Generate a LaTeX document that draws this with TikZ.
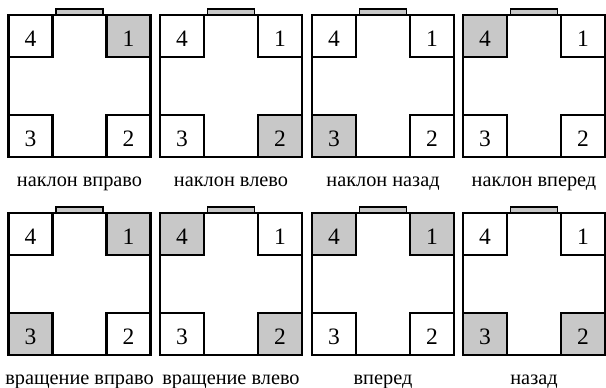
\documentclass[tikz,border=0pt]{standalone}
\usepackage{fontspec}
\setmainfont{Liberation Serif}
\usetikzlibrary{calc}
\definecolor{pad}{HTML}{C8C8C8}
\tikzset{
 outerbox/.style={draw,line width=2.5pt,minimum width=142pt,minimum height=142pt,inner sep=0pt,outer sep=0pt,anchor=north west},
 cornerbox/.style={draw,line width=2.2pt,minimum width=44pt,minimum height=42pt,inner sep=0pt,outer sep=0pt,fill=white,text height=20.5pt,text depth=0pt,font=\fontsize{23.5}{23.5}\selectfont},
 litbox/.style={cornerbox,fill=pad},
 topbar/.style={draw,line width=1.6pt,fill=pad,minimum width=47pt,minimum height=6pt,inner sep=0pt,outer sep=0pt,anchor=south},
 caption/.style={font=\fontsize{20.3}{20.3}\selectfont,anchor=base,inner sep=0pt}
}
\newcommand\padpanel[8]{%
 \node[outerbox] (#1) at (#2,#3) {};
 \node[topbar] (#1b) at (#1.north) {};
 \node[#4,anchor=north east] (#1n1) at (#1.north east) {1};
 \node[#5,anchor=south east] (#1n2) at (#1.south east) {2};
 \node[#6,anchor=south west] (#1n3) at (#1.south west) {3};
 \node[#7,anchor=north west] (#1n4) at (#1.north west) {4};
 \node[caption] (#1c) at ($(#1.south)+(0,29)$) {#8};
}
\begin{document}
\begin{tikzpicture}[x=1pt,y=-1pt]
\useasboundingbox (0,0) rectangle (606,388);
\padpanel{pa}{8.5}{15}{litbox}{cornerbox}{cornerbox}{cornerbox}{наклон вправо}
\padpanel{pb}{160}{15}{cornerbox}{litbox}{cornerbox}{cornerbox}{наклон влево}
\padpanel{pc}{312}{15}{cornerbox}{cornerbox}{litbox}{cornerbox}{наклон назад}
\padpanel{pd}{463}{15}{cornerbox}{cornerbox}{cornerbox}{litbox}{наклон вперед}
\padpanel{pe}{8.5}{213}{litbox}{cornerbox}{litbox}{cornerbox}{вращение вправо}
\padpanel{pf}{160}{213}{cornerbox}{litbox}{cornerbox}{litbox}{вращение влево}
\padpanel{pg}{312}{213}{litbox}{cornerbox}{cornerbox}{litbox}{вперед}
\padpanel{ph}{463}{213}{cornerbox}{litbox}{litbox}{cornerbox}{назад}
\end{tikzpicture}
\end{document}
